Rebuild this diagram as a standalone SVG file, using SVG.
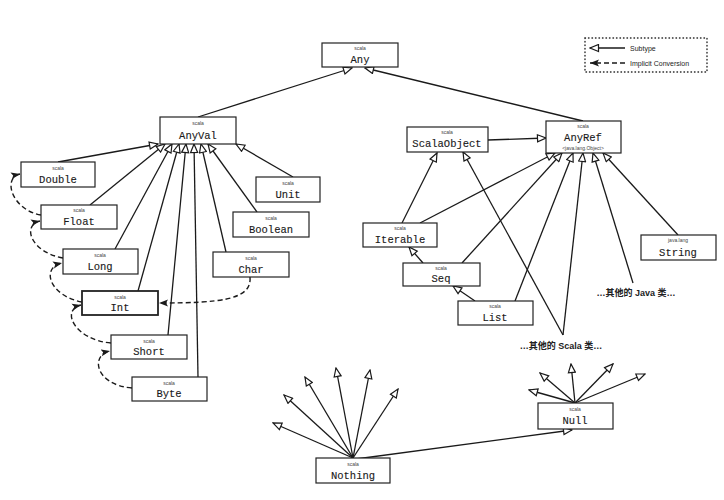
<svg xmlns="http://www.w3.org/2000/svg" width="724" height="500" viewBox="0 0 724 500">
<style>
.box{fill:#fff;stroke:#222;stroke-width:1.2}
.nm{font-family:"Liberation Mono",monospace;font-size:10.5px;fill:#1a1a1a;text-anchor:middle;stroke:#1a1a1a;stroke-width:0.12}
.pk{font-family:"Liberation Sans",Arial,sans-serif;font-size:5px;fill:#444;text-anchor:middle}
.sub{fill:none;stroke:#1a1a1a;stroke-width:1.3;marker-end:url(#sub)}
.imp{fill:none;stroke:#1a1a1a;stroke-width:1.4;stroke-dasharray:5,3;marker-end:url(#imp)}
.cn{font-family:"Liberation Sans","Noto Sans CJK SC",sans-serif;font-size:9px;font-weight:bold;fill:#222;text-anchor:middle}
.lg{font-family:"Liberation Sans",Arial,sans-serif;font-size:7px;fill:#222}
</style>
<defs>
<marker id="sub" markerWidth="11" markerHeight="9" refX="10" refY="4.5" orient="auto" markerUnits="userSpaceOnUse">
<path d="M1.5,1 L10,4.5 L1.5,8 Z" fill="#fff" stroke="#1a1a1a" stroke-width="1.2"/>
</marker>
<marker id="imp" markerWidth="10" markerHeight="8" refX="9" refY="4" orient="auto" markerUnits="userSpaceOnUse">
<path d="M0,0.5 L9,4 L0,7.5 L2,4 Z" fill="#1a1a1a"/>
</marker>
</defs>
<rect width="724" height="500" fill="#fff"/>

<g id="connectors">
<path class="sub" d="M198,117 L352,68"/>
<path class="sub" d="M583,121 L365,68"/>
<path class="sub" d="M58,162 L158,144"/>
<path class="sub" d="M90,205 L165,144"/>
<path class="sub" d="M115,249 L172,144"/>
<path class="sub" d="M138,291 L179,144"/>
<path class="sub" d="M168,335 L186,144"/>
<path class="sub" d="M198,377 L194,144"/>
<path class="sub" d="M226,252 L201,144"/>
<path class="sub" d="M257,212 L208,144"/>
<path class="sub" d="M293,177 L236,144"/>
<path class="imp" d="M41,215 C12,210 2,178 20,174"/>
<path class="imp" d="M63,258 C30,252 22,225 40,221"/>
<path class="imp" d="M82,302 C50,296 40,268 62,263"/>
<path class="imp" d="M111,343 C75,340 60,310 81,305"/>
<path class="imp" d="M132,388 C95,385 90,355 110,351"/>
<path class="imp" d="M250,277 C252,300 220,303 159,303"/>
<path class="sub" d="M488,140 L546,138"/>
<path class="sub" d="M402,223 L437,153"/>
<path class="sub" d="M420,223 L555,153"/>
<path class="sub" d="M423,263 L409,247"/>
<path class="sub" d="M462,263 L562,153"/>
<path class="sub" d="M475,301 L453,286"/>
<path class="sub" d="M515,301 L573,153"/>
<path class="sub" d="M563,335 L463,152"/>
<path class="sub" d="M563,335 L583,153"/>
<path class="sub" d="M633,283 L593,153"/>
<path class="sub" d="M678,235 L603,153"/>
<path class="sub" d="M353,458 L273,423"/>
<path class="sub" d="M353,458 L284,395"/>
<path class="sub" d="M353,458 L305,377"/>
<path class="sub" d="M353,458 L336,368"/>
<path class="sub" d="M353,458 L370,370"/>
<path class="sub" d="M353,458 L398,389"/>
<path class="sub" d="M356,459 L572,430"/>
<path class="sub" d="M575,403 L529,390"/>
<path class="sub" d="M575,403 L540,373"/>
<path class="sub" d="M575,403 L571,364"/>
<path class="sub" d="M575,403 L613,364"/>
<path class="sub" d="M575,403 L645,374"/>
</g>

<g id="legend">
<rect x="585" y="38" width="122" height="34" fill="none" stroke="#222" stroke-width="1.4" stroke-dasharray="0.5,3" stroke-linecap="round"/>
<path class="sub" d="M625,48 L590,48"/>
<path class="imp" d="M625,63 L590,63"/>
<text class="lg" x="630" y="51">Subtype</text>
<text class="lg" x="630" y="66">Implicit Conversion</text>
</g>

<g id="Any"><rect class="box" x="322" y="43" width="76" height="24"/><text class="pk" x="360" y="50">scala</text><text class="nm" x="360" y="63">Any</text></g>
<g id="AnyVal"><rect class="box" x="160" y="117" width="76" height="27"/><text class="pk" x="198" y="125">scala</text><text class="nm" x="198" y="139">AnyVal</text></g>
<g id="Double"><rect class="box" x="21" y="162" width="74" height="25"/><text class="pk" x="58" y="170">scala</text><text class="nm" x="58" y="183">Double</text></g>
<g id="Float"><rect class="box" x="41" y="205" width="76" height="24"/><text class="pk" x="79" y="212">scala</text><text class="nm" x="79" y="225">Float</text></g>
<g id="Long"><rect class="box" x="63" y="249" width="75" height="25"/><text class="pk" x="100" y="257">scala</text><text class="nm" x="100" y="270">Long</text></g>
<g id="Int"><rect class="box" x="82" y="291" width="76" height="24" style="stroke-width:1.8"/><text class="pk" x="120" y="299">scala</text><text class="nm" x="120" y="311">Int</text></g>
<g id="Short"><rect class="box" x="111" y="335" width="76" height="24"/><text class="pk" x="149" y="343">scala</text><text class="nm" x="149" y="355">Short</text></g>
<g id="Byte"><rect class="box" x="132" y="377" width="75" height="24"/><text class="pk" x="169" y="385">scala</text><text class="nm" x="169" y="397">Byte</text></g>
<g id="Char"><rect class="box" x="213" y="252" width="76" height="25"/><text class="pk" x="251" y="260">scala</text><text class="nm" x="251" y="273">Char</text></g>
<g id="Boolean"><rect class="box" x="233" y="212" width="76" height="25"/><text class="pk" x="271" y="220">scala</text><text class="nm" x="271" y="233">Boolean</text></g>
<g id="Unit"><rect class="box" x="256" y="177" width="64" height="25"/><text class="pk" x="288" y="185">scala</text><text class="nm" x="288" y="198">Unit</text></g>
<g id="ScalaObject"><rect class="box" x="407" y="127" width="81" height="25"/><text class="pk" x="447" y="134">scala</text><text class="nm" x="447" y="147">ScalaObject</text></g>
<g id="AnyRef"><rect class="box" x="546" y="121" width="75" height="32"/><text class="pk" x="583" y="128">scala</text><text class="nm" x="583" y="141">AnyRef</text><text class="pk" x="583" y="150">&lt;java.lang.Object&gt;</text></g>
<g id="Iterable"><rect class="box" x="363" y="223" width="74" height="24"/><text class="pk" x="400" y="230">scala</text><text class="nm" x="400" y="243">Iterable</text></g>
<g id="Seq"><rect class="box" x="403" y="263" width="77" height="23"/><text class="pk" x="441" y="270">scala</text><text class="nm" x="441" y="282">Seq</text></g>
<g id="List"><rect class="box" x="458" y="301" width="75" height="24"/><text class="pk" x="495" y="308">scala</text><text class="nm" x="495" y="321">List</text></g>
<g id="String"><rect class="box" x="641" y="235" width="75" height="25"/><text class="pk" x="678" y="242">java.lang</text><text class="nm" x="678" y="256">String</text></g>
<g id="JavaOthers"><text class="cn" x="636" y="296">…其他的 Java 类…</text></g>
<g id="ScalaOthers"><text class="cn" x="561" y="349">…其他的 Scala 类…</text></g>
<g id="Nothing"><rect class="box" x="316" y="458" width="74" height="25"/><text class="pk" x="353" y="466">scala</text><text class="nm" x="353" y="479">Nothing</text></g>
<g id="Null"><rect class="box" x="538" y="403" width="75" height="26"/><text class="pk" x="575" y="411">scala</text><text class="nm" x="575" y="424">Null</text></g>
</svg>
